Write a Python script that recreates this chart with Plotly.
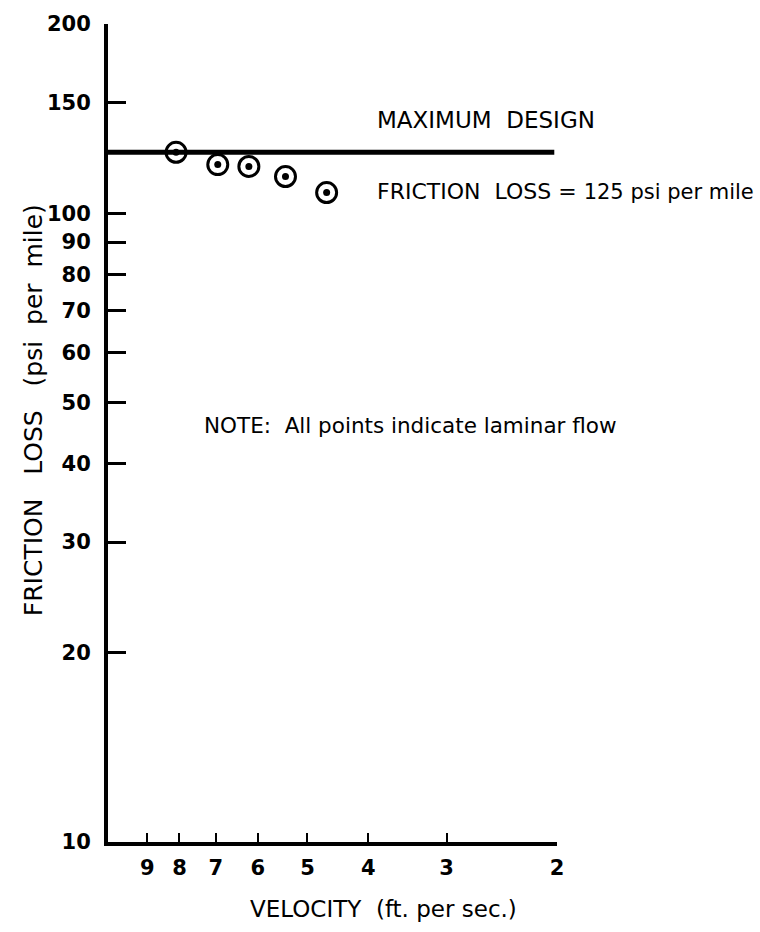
import numpy as np
import plotly.graph_objects as go

# Measured points (all laminar flow)
velocity = [8.1, 6.95, 6.2, 5.42, 4.66]          # ft per sec
friction_loss = [125.0, 119.5, 118.7, 114.4, 107.9]  # psi per mile

# Maximum design friction loss
design_limit = 125.0

# Axis ticks
y_ticks = [10, 20, 30, 40, 50, 60, 70, 80, 90, 100, 150, 200]
x_ticks = [9, 8, 7, 6, 5, 4, 3, 2]

x_range = [np.log10(10.4), np.log10(2)]   # reversed log axis
y_range = [np.log10(10), np.log10(200)]

FONT = "DejaVu Sans"
INK = "#000000"

fig = go.Figure()

# Maximum design line across the full velocity range
fig.add_trace(go.Scatter(
    x=[10 ** x_range[0], 10 ** x_range[1] * 1.01],
    y=[design_limit, design_limit],
    mode="lines",
    line=dict(color=INK, width=5),
    hoverinfo="skip",
    showlegend=False,
))

# Ring markers
fig.add_trace(go.Scatter(
    x=velocity, y=friction_loss,
    mode="markers",
    marker=dict(symbol="circle-open", size=20, color=INK, line=dict(width=3, color=INK)),
    showlegend=False,
))
# Centre dots
fig.add_trace(go.Scatter(
    x=velocity, y=friction_loss,
    mode="markers",
    marker=dict(symbol="circle", size=7, color=INK),
    showlegend=False,
))

L, R, T, B = 108, 557, 18, 842
W, H = 760, 932

def px(x):
    return (x - L) / (R - L)

def py(y):
    return (B - y) / (B - T)

annotations = [
    dict(text="MAXIMUM  DESIGN", x=px(375), y=py(115), xanchor="left", yanchor="middle",
         font=dict(family=FONT, size=23, color=INK)),
    dict(text="FRICTION  LOSS = <span style='font-size:21px'>125 psi per mile</span>",
         x=px(375), y=py(187), xanchor="left", yanchor="middle",
         font=dict(family=FONT, size=22, color=INK)),
    dict(text="NOTE:  All points indicate laminar flow", x=px(202), y=py(422),
         xanchor="left", yanchor="middle",
         font=dict(family=FONT, size=21.5, color=INK)),
    dict(text="FRICTION   LOSS   (psi  per  mile)", x=px(33), y=py(407), textangle=-90,
         xanchor="center", yanchor="middle",
         font=dict(family=FONT, size=25, color=INK)),
    dict(text="VELOCITY  (ft. per sec.)", x=px(383), y=py(909),
         xanchor="center", yanchor="middle",
         font=dict(family=FONT, size=23, color=INK)),
]
for a in annotations:
    a.update(xref="paper", yref="paper", showarrow=False)

fig.update_layout(
    width=W, height=H,
    margin=dict(l=L, r=W - R, t=T, b=H - B, pad=0),
    paper_bgcolor="white", plot_bgcolor="white",
    annotations=annotations,
    xaxis=dict(
        type="log", range=x_range,
        tickvals=x_ticks, ticktext=[str(v) for v in x_ticks],
        ticks="inside", ticklen=9, tickwidth=2, tickcolor=INK,
        ticklabelstandoff=4,
        showline=True, linecolor=INK, linewidth=4,
        showgrid=False, zeroline=False,
        tickfont=dict(family=FONT, size=21, color=INK, weight="bold"),
    ),
    yaxis=dict(
        type="log", range=y_range,
        tickvals=y_ticks, ticktext=[str(v) for v in y_ticks],
        ticks="inside", ticklen=18, tickwidth=3, tickcolor=INK,
        ticklabelstandoff=9,
        showline=True, linecolor=INK, linewidth=4,
        showgrid=False, zeroline=False,
        tickfont=dict(family=FONT, size=21, color=INK, weight="bold"),
    ),
)

fig.write_html("out.html")
